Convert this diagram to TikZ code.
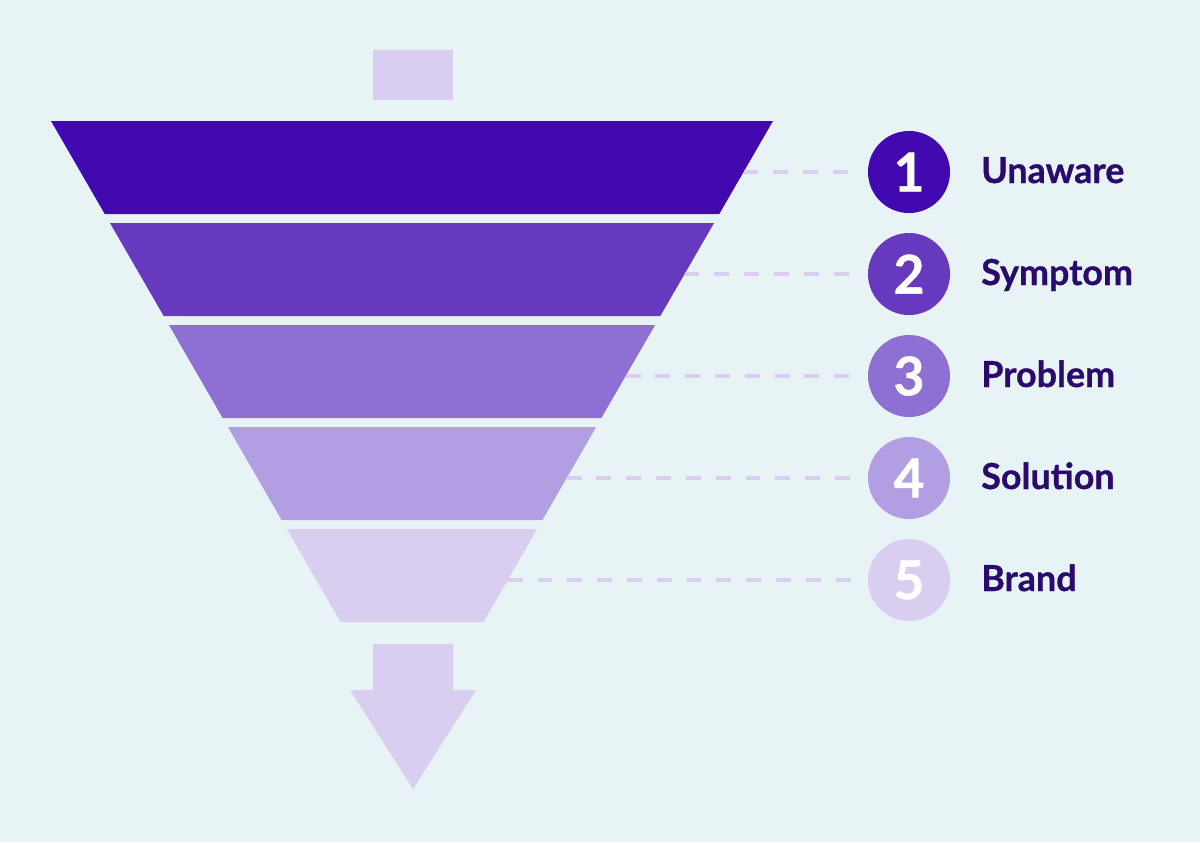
\documentclass[tikz,border=0pt]{standalone}
\usepackage{fontspec}
\setmainfont{Lato}
\newfontfamily\stagefont{Lato}[BoldFeatures={FakeBold=0.8}]
\definecolor{bgblue}{HTML}{E8F3F6}
\definecolor{bandA}{HTML}{4309B0}
\definecolor{bandB}{HTML}{6739BF}
\definecolor{bandC}{HTML}{8E6FD4}
\definecolor{bandD}{HTML}{B19EE3}
\definecolor{bandE}{HTML}{D9CEF0}
\definecolor{labelink}{HTML}{2B0A6D}
\begin{document}
\begin{tikzpicture}[x=0.025cm, y=-0.025cm,
    stagenum/.style={circle, minimum size=2.05cm, inner sep=0pt, text=white,
        font=\stagefont\fontsize{38}{40}\selectfont\bfseries},
    stagelabel/.style={anchor=base west, inner sep=0pt, text=labelink,
        font=\stagefont\fontsize{25.5}{28}\selectfont\bfseries},
    stagelink/.style={bandE, line width=3.2pt, dash pattern=on 10.6pt off 10.6pt}]
    \fill[bgblue] (0,0) rectangle (1200,842);
    \useasboundingbox (0,0) rectangle (1200,842);
    % inlet
    \fill[bandE] (373,50) rectangle (453,100);
    % funnel bands, stage circles and labels
    \foreach \t/\c/\n/\lab in {121/bandA/1/Unaware, 223/bandB/2/Symptom,
        325/bandC/3/Problem, 427/bandD/4/Solution, 529/bandE/5/Brand}{
        \fill[\c] ({51+0.578*(\t-121)},\t) -- ({773-0.578*(\t-121)},\t)
            -- ({773-0.578*(\t-28)},\t+93) -- ({51+0.578*(\t-28)},\t+93) -- cycle;
        \coordinate (e\n) at ({773-0.578*(\t-70)},\t+51);
        \node[stagenum, fill=\c] (c\n) at (909,\t+51) {\n};
        \node[stagelabel] (l\n) at (981,\t+62) {\lab};
        \coordinate (d\n) at (857,\t+51);
        \draw[stagelink] (e\n) -- (d\n);
    }
    % outlet arrow
    \fill[bandE] (373,644) -- (453,644) -- (453,690) -- (476,690) -- (413,789)
        -- (350,690) -- (373,690) -- cycle;
\end{tikzpicture}
\end{document}
